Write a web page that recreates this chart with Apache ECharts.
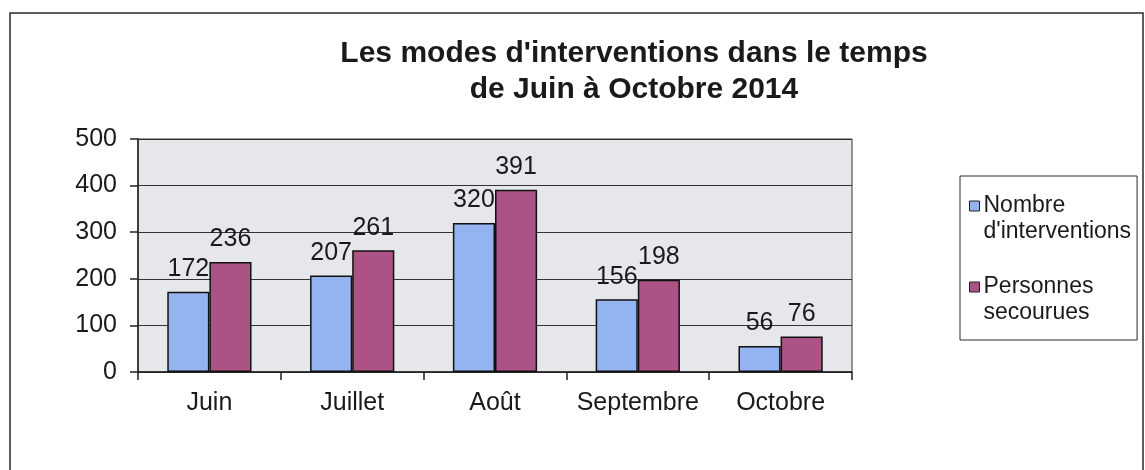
<!DOCTYPE html>
<html>
<head>
<meta charset="utf-8">
<script src="https://cdn.jsdelivr.net/npm/echarts@6/dist/echarts.min.js"></script>
<style>
  html, body { margin: 0; padding: 0; background: #fff; }
  #chart { width: 1145px; height: 470px; }
</style>
</head>
<body>
<div id="chart"></div>
<script>
const months = ['Juin', 'Juillet', 'Août', 'Septembre', 'Octobre']
const interventions = [172, 207, 320, 156, 56]
const secourues = [236, 261, 391, 198, 76]
const seriesNames = ['Nombre\nd\'interventions', 'Personnes\nsecourues']

const chart = echarts.init(document.getElementById('chart'))
const font = 'Liberation Sans, Arial, sans-serif'

const barLabel = {
  show: true,
  position: 'top',
  distance: 10,
  color: '#1a1a1a',
  fontSize: 25,
  fontFamily: font
}

chart.setOption({
  animation: false,
  backgroundColor: '#fff',
  graphic: [{
    type: 'rect',
    shape: { x: 10, y: 13, width: 1133, height: 470 },
    style: { fill: 'none', stroke: '#2a2a2a', lineWidth: 1.5 },
    silent: true
  }],
  title: {
    text: 'Les modes d\'interventions dans le temps\nde Juin à Octobre 2014',
    left: 629,
    top: 31,
    textAlign: 'center',
    textStyle: {
      fontFamily: font,
      fontSize: 30,
      fontWeight: 'bold',
      color: '#1a1a1a',
      lineHeight: 36
    }
  },
  legend: {
    orient: 'vertical',
    left: 960,
    top: 176,
    padding: [17, 6, 14, 9],
    itemGap: 29,
    itemWidth: 10,
    itemHeight: 36,
    borderColor: '#2a2a2a',
    borderWidth: 1,
    // square sits on the first text line
    icon: 'path://M0,0L10,0L10,10L0,10Z M0,36',
    itemStyle: { borderColor: '#222', borderWidth: 1 },
    textStyle: {
      fontFamily: font,
      fontSize: 23,
      color: '#1a1a1a',
      lineHeight: 26,
      padding: [0, 0, 0, -1]
    },
    data: seriesNames
  },
  grid: {
    left: 138,
    top: 139,
    right: 293,
    bottom: 98,
    show: true,
    backgroundColor: '#e5e7eb',
    borderColor: '#333',
    borderWidth: 1
  },
  xAxis: {
    type: 'category',
    data: months,
    axisLine: { lineStyle: { color: '#222', width: 1.5 } },
    axisTick: { show: true, interval: 0, length: 8, lineStyle: { color: '#222', width: 1.5 } },
    axisLabel: {
      interval: 0,
      margin: 19,
      fontFamily: font,
      fontSize: 25,
      color: '#1a1a1a'
    }
  },
  yAxis: {
    type: 'value',
    min: 0,
    max: 500,
    interval: 100,
    axisLine: { show: true, lineStyle: { color: '#222', width: 1.5 } },
    axisTick: { show: true, length: 8, lineStyle: { color: '#222', width: 1.5 } },
    splitLine: { lineStyle: { color: '#333', width: 1 } },
    axisLabel: {
      margin: 21,
      fontFamily: font,
      fontSize: 25,
      color: '#1a1a1a'
    }
  },
  series: [
    {
      name: seriesNames[0],
      type: 'bar',
      data: interventions,
      barGap: '0%',
      barCategoryGap: '41%',
      itemStyle: { color: '#93b4f0', borderColor: '#111', borderWidth: 1.5 },
      label: barLabel
    },
    {
      name: seriesNames[1],
      type: 'bar',
      data: secourues,
      itemStyle: { color: '#ad5285', borderColor: '#111', borderWidth: 1.5 },
      label: barLabel
    }
  ]
})
</script>
</body>
</html>
